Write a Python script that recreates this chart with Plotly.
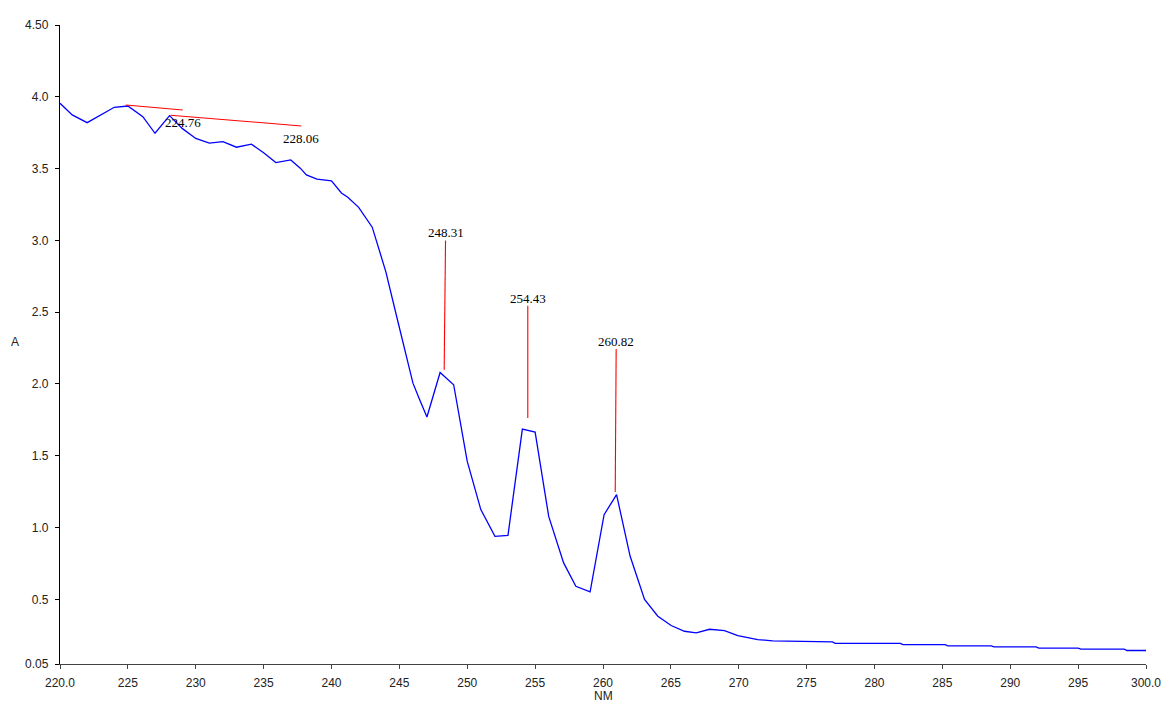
import plotly.graph_objects as go

# Spectrum (wavelength nm, absorbance)
wavelength = [220.0, 220.9, 222.0, 223.0, 224.0, 225.0, 226.1, 227.0, 228.07, 229.0,
              230.0, 231.0, 232.0, 233.0, 234.1, 235.0, 235.9, 237.0, 237.7, 238.15,
              238.93, 240.0, 240.73, 241.2, 242.0, 243.0, 244.0, 244.8, 246.0, 246.45,
              247.03, 248.0, 249.0, 250.0, 251.0, 252.04, 253.0, 254.06, 255.0, 256.0,
              257.1, 258.0, 259.05, 260.08, 261.0, 262.0, 262.57, 263.06, 264.04, 265.02,
              266.0, 266.87, 267.85, 268.95, 269.93, 271.4, 272.5, 274.7, 276.9, 277.1,
              281.9, 282.1, 285.2, 285.4, 288.6, 288.8, 291.9, 292.1, 295.0, 295.2,
              298.4, 298.6, 300.0]
absorbance = [3.955, 3.874, 3.82, 3.875, 3.927, 3.936, 3.862, 3.746, 3.869, 3.78,
              3.71, 3.677, 3.688, 3.649, 3.67, 3.61, 3.542, 3.56, 3.503, 3.456,
              3.426, 3.414, 3.33, 3.30, 3.23, 3.092, 2.783, 2.47, 2.006, 1.90,
              1.77, 2.08, 1.995, 1.461, 1.125, 0.939, 0.946, 1.686, 1.665, 1.078,
              0.754, 0.591, 0.552, 1.09, 1.229, 0.80, 0.638, 0.499, 0.383, 0.318,
              0.278, 0.267, 0.292, 0.283, 0.248, 0.22, 0.211, 0.206, 0.204, 0.194,
              0.194, 0.185, 0.185, 0.176, 0.176, 0.169, 0.169, 0.160, 0.160, 0.153,
              0.153, 0.144, 0.144]

# Peak picks: label, leader line start (at peak) and end (at label)
peak_labels = ["224.76", "228.06", "248.31", "254.43", "260.82"]
peak_x0 = [224.85, 228.14, 248.3, 254.46, 260.9]
peak_y0 = [3.943, 3.872, 2.099, 1.763, 1.248]
peak_x1 = [229.04, 237.78, 248.4, 254.46, 260.97]
peak_y1 = [3.908, 3.797, 3.0, 2.544, 2.243]
label_below = [True, True, False, False, False]

x_ticks = [220, 225, 230, 235, 240, 245, 250, 255, 260, 265, 270, 275, 280, 285, 290, 295, 300]
x_tick_text = ["220.0", "225", "230", "235", "240", "245", "250", "255", "260", "265",
               "270", "275", "280", "285", "290", "295", "300.0"]
y_ticks = [0.05, 0.5, 1.0, 1.5, 2.0, 2.5, 3.0, 3.5, 4.0, 4.5]
y_tick_text = ["0.05", "0.5", "1.0", "1.5", "2.0", "2.5", "3.0", "3.5", "4.0", "4.50"]

fig = go.Figure()
fig.add_trace(go.Scatter(x=wavelength, y=absorbance, mode="lines",
                         line=dict(color="#0000ff", width=1.3), hoverinfo="skip"))
for i in range(len(peak_labels)):
    fig.add_trace(go.Scatter(x=[peak_x0[i], peak_x1[i]], y=[peak_y0[i], peak_y1[i]],
                             mode="lines", line=dict(color="#ff0000", width=1.1),
                             hoverinfo="skip"))

annotations = []
for i, lab in enumerate(peak_labels):
    if label_below[i]:
        annotations.append(dict(x=peak_x1[i], y=peak_y1[i], xref="x", yref="y", text=lab,
                                showarrow=False, xanchor="center", yanchor="top", yshift=-3,
                                font=dict(family="Liberation Serif", size=13, color="#000")))
    else:
        annotations.append(dict(x=peak_x1[i], y=peak_y1[i], xref="x", yref="y", text=lab,
                                showarrow=False, xanchor="center", yanchor="bottom", yshift=-2,
                                font=dict(family="Liberation Serif", size=13, color="#000")))

annotations.append(dict(x=0.5, y=0, xref="paper", yref="paper", text="NM", showarrow=False,
                        xanchor="center", yanchor="middle", yshift=-32,
                        font=dict(family="Liberation Sans", size=12, color="#222")))
annotations.append(dict(x=0, y=0.5, xref="paper", yref="paper", text="A", showarrow=False,
                        xanchor="center", yanchor="middle", xshift=-45, yshift=3,
                        font=dict(family="Liberation Sans", size=12, color="#222")))

fig.update_layout(
    width=1162, height=702,
    margin=dict(l=60, r=16, t=25, b=38),
    paper_bgcolor="white", plot_bgcolor="white",
    showlegend=False, hovermode=False,
    annotations=annotations,
    xaxis=dict(range=[220, 300], tickvals=x_ticks, ticktext=x_tick_text,
               showgrid=False, zeroline=False, showline=True, linecolor="#444", linewidth=1.3,
               ticks="outside", ticklen=4, tickcolor="#444", tickwidth=1.3,
               ticklabelstandoff=3, automargin=False,
               tickfont=dict(family="Liberation Sans", size=12, color="#222")),
    yaxis=dict(range=[0.05, 4.5], tickvals=y_ticks, ticktext=y_tick_text,
               showgrid=False, zeroline=False, showline=True, linecolor="#000", linewidth=1.3,
               ticks="outside", ticklen=4, tickcolor="#000", tickwidth=1.3,
               ticklabelstandoff=4, automargin=False,
               tickfont=dict(family="Liberation Sans", size=12, color="#222")),
)

fig.write_html("out.html", config={"displayModeBar": False},
               post_script="document.body.style.margin='0';document.body.style.overflow='hidden';")
